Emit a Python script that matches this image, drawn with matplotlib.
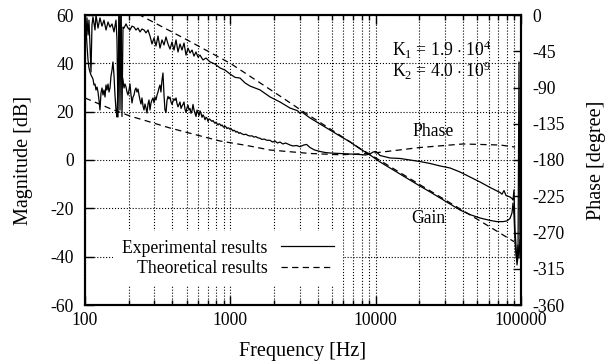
import matplotlib
matplotlib.use('Agg')
import matplotlib.pyplot as plt
from matplotlib.ticker import LogLocator, NullFormatter

# values
gain_exp_f = [100, 101.6, 103.2, 104.9, 106.5, 108.2, 110, 111.7, 113.5, 117.2, 119, 122.9, 126.8,
              130.9, 135.1, 139.5, 144, 148.6, 153.4, 158.3, 163.4, 166, 168.7, 171.4, 174.1, 176.9,
              179.7, 182.6, 185.5, 191.5, 197.6, 204, 210.6, 217.4, 224.3, 231.6, 239, 246.7, 254.7,
              262.8, 271.3, 280.1, 289.1, 298.4, 308, 317.9, 328.2, 338.7, 349.6, 360.9, 372.5,
              384.6, 396.9, 409.7, 422.9, 436.5, 450.6, 465.1, 480.1, 495.5, 511.5, 527.9, 545,
              562.3, 580.5, 599.1, 618.5, 648.6, 680.2, 724.6, 784.6, 849.1, 919.1, 994.7, 1077,
              1166, 1262, 1366, 1479, 1601, 1875, 2197, 2574, 2900, 3016, 3100, 3533, 4140, 4851,
              5684, 6659, 7802, 9141, 10710, 12550, 14710, 17230, 20190, 23660, 27720, 32480,
              38060, 44590, 52250, 61220, 68380, 75210, 80110, 84010, 86710, 88100, 89510, 90930,
              92370, 93850, 95350, 96880, 98420]
gain_exp_db = [57.1, 49.7, 58.8, 51.7, 57.9, 47.6, 36.4, 55.9, 59.2, 53.8, 60, 54.6, 58.8,
               55.4, 57.9, 53.8, 57.1, 55.0, 56.3, 53.0, 57.9, 49.7, 17.8, 62, 40, 62,
               18, 55, 54.6, 56.3, 54.6, 53.8, 55.4, 55.0, 53.8, 54.6, 53.0, 54.2, 53.8,
               52.6, 53.8, 51.3, 48.0, 50.5, 47.2, 51.3, 46.3, 49.7, 47.6, 50.9, 48.0,
               45.9, 48.8, 45.5, 49.7, 44.7, 48.0, 45.5, 48.4, 43.4, 46.3, 44.3, 45.5,
               43.0, 44.7, 42.6, 43.4, 41.4, 42.2, 40.6, 39.7, 38.1, 37.2, 35.6, 34.2,
               33.9, 31.9, 30.6, 29.8, 29.0, 26.1, 24.0, 21.5, 20.4, 19.3, 19.9, 17.4, 14.9, 12.4,
               9.9, 7.5, 4.6, 2.1, -0.8, -3.3, -5.8, -8.3, -10.8, -13.2, -15.7, -18.2,
               -20.7, -22.6, -24.0, -25.0, -25.5, -25.5, -25.2, -24.2, -21.9, -17.8, -22.8, -33.1,
               -39.3, -42.2, -35.2, -40.6, -33.1]

phase_exp_f = [100, 101.6, 103.2, 104.9, 106.5, 108.2, 110, 111.7, 113.5, 115.3, 117.2, 119, 121,
               122.9, 124.8, 126.8, 128.8, 130.9, 133, 135.1, 137.3, 139.5, 141.7, 144, 146.3,
               148.6, 151, 153.4, 155.8, 158.3, 160.8, 163.4, 166, 168.7, 171.4, 174.1, 176.9,
               179.7, 182.6, 185.5, 188.5, 191.5, 194.5, 197.6, 200.8, 204, 207.3, 210.6, 214,
               217.4, 220.8, 224.3, 227.9, 231.6, 235.3, 239, 242.8, 246.7, 250.7, 254.7, 258.7,
               262.8, 267, 271.3, 275.7, 280, 284.5, 289, 293.7, 298.4, 303, 308, 313, 318, 323,
               328, 333, 338.7, 344, 349.6, 355, 361, 366.7, 372.5, 378.5, 384.6, 390.7, 397,
               403.3, 409.7, 416, 423, 429.7, 436.5, 443.5, 450.6, 457.8, 465, 472.5, 480, 487.7,
               495.5, 503.4, 511.5, 519.7, 528, 536.4, 545, 553.7, 562.5, 571.5, 580.6, 589.9,
               599, 609, 618.5, 628, 638.6, 648.6, 659, 669.6, 680.2, 691, 702, 713, 724.6, 736,
               748, 760, 772, 784.6, 797, 810, 823, 836, 849, 863, 877, 891, 905, 919, 934, 949,
               964, 979, 995, 1011, 1027, 1043, 1060, 1077, 1094, 1111, 1129, 1147, 1166, 1200,
               1240, 1280, 1320, 1366, 1410, 1450, 1500, 1550, 1601, 1650, 1710, 1780, 1875,
               1950, 2030, 2110, 2197, 2300, 2400, 2574, 2700, 2850, 3016, 3200, 3350, 3533,
               3800, 4140, 4500, 4851, 5684, 6659, 7802, 8500, 9141, 9600, 10000, 10400, 10710,
               12550, 14710, 17230, 20190, 23660, 27720, 32480, 38060, 44590, 52250, 61220,
               68380, 71730, 74000, 76400, 78900, 84010, 86710, 88100, 89510, 90930, 92370,
               93850, 95350, 96880, 98420]
phase_exp_deg = [-2.5, -16.1, -37.2, -55.9, -65.8, -70.8, -74.5, -77.0, -79.4, -86.9, -85.7, -93.1, -89.4,
                 -95.6, -105.5, -117.9, -96.8, -90.6, -99.3, -93.1, -101.8, -86.9, -93.1, -85.7, -95.6,
                 -90.6, -75.7, -68.3, -58.3, -74.5, -99.3, -117.9, -126.6, -86.9, 0, -117.9, 0,
                 -74.5, -80.7, -90.6, -85.7, -89.4, -95.6, -99.3, -93.1, -85.7, -99.3, -109.2, -101.8,
                 -99.3, -93.1, -90.6, -95.6, -91.9, -99.3, -105.5, -110.5, -103.0, -113.0, -117.9, -110.5,
                 -115.4, -121.7, -110.5, -105.5, -117.9, -109.2, -105.5, -103.0, -109.2, -101.8, -105.5, -99.3, -95.6, -90.6,
                 -86.9, -95.6, -80.7, -72.0, -99.0, -118.0, -121.0, -106.0, -101.0, -104.0, -102.0, -108.0, -111.0,
                 -107.0, -104.0, -106.0, -103.0, -110.0, -114.0, -111.0, -108.0, -116.0, -113.0, -111.0, -108.0, -117.0,
                 -121.0, -115.0, -112.0, -118.0, -116.0, -122.0, -119.0, -111.0, -118.0, -122.0, -126.0, -118.0,
                 -121.0, -125.0, -119.0, -122.0, -127.0, -124.0, -126.0, -130.0, -127.0, -128.0, -132.0, -129.0, -129.5, -131.0,
                 -132.0, -131.0, -133.0, -134.5, -133.0, -135.0, -136.5, -135.0, -135.5, -137.5, -136.5, -138.5, -139.5, -138.0, -139.0, -141.0,
                 -140.0, -140.5, -142.0, -141.0, -142.5, -144.0, -143.0, -144.0, -145.5, -144.5, -145.5, -147.0, -146.0, -147.5,
                 -148.5, -148.0, -149.5, -150.2, -150.0, -151.5, -151.0, -152.5, -153.0, -154.5, -154.0, -155.5, -155.5,
                 -157.7, -156.4, -158.9, -157.7, -160.1, -158.9, -161.4, -162.6, -162.0, -163.5, -161.4, -160.7, -164.5,
                 -167.6, -169.4, -170.7, -171.3, -171.9, -172.6, -173.2, -173.8, -172.6, -170.1, -169.4, -171.9, -174.4,
                 -177.5, -178.1, -180.0, -181.9, -184.3, -187.4, -189.9, -194.9, -201.1, -207.3, -214.1,
                 -218.5, -220.3, -222.5, -217.9, -224.1, -225.9, -227.8, -229.7, -217.2, -266.9, -285.5,
                 -310.3, -300.0, -58.3, -290.0]

gain_th_f = [200, 238, 500, 1000, 2000, 3177, 5000, 7800, 10000, 20000, 50000, 89600]
gain_th_db = [62.6, 60.0, 49.8, 40.0, 28.1, 20.0, 12.4, 4.8, 0.9, -10.1, -24.5, -33.8]

phase_th_f = [100, 148.6, 204, 280, 384.6, 600, 849, 1300, 1875, 3533, 5684, 9141, 20190, 39900, 71800, 91000]
phase_th_deg = [-103.0, -116.1, -125.4, -132.8, -140.3, -149.4, -156.4, -162.0, -167.6, -171.9, -173.5,
                -171.9, -164.5, -160.1, -161.4, -163.9]

mag_ticks = [-60, -40, -20, 0, 20, 40, 60]
phase_ticks = [-360, -315, -270, -225, -180, -135, -90, -45, 0]
freq_ticks = [100, 1000, 10000, 100000]
freq_labels = ['100', '1000', '10000', '100000']

plt.rcParams['font.family'] = 'Liberation Serif'
plt.rcParams['font.size'] = 12.7
plt.rcParams['axes.unicode_minus'] = False
plt.rcParams['mathtext.fontset'] = 'custom'
plt.rcParams['mathtext.rm'] = 'Liberation Serif'
plt.rcParams['mathtext.it'] = 'Liberation Serif:italic'

fig = plt.figure(figsize=(6.13, 3.64), dpi=100)
ax = fig.add_axes([85 / 613, 59 / 364, 436 / 613, 290 / 364])
ax2 = ax.twinx()

# gain on left axis
l_exp, = ax.plot(gain_exp_f, gain_exp_db, color='black', lw=0.9)
l_th, = ax.plot(gain_th_f, gain_th_db, color='black', lw=0.9, ls=(0, (5, 3.5)))
# phase on right axis
ax2.plot(phase_exp_f, phase_exp_deg, color='black', lw=0.9)
ax2.plot(phase_th_f, phase_th_deg, color='black', lw=0.9, ls=(0, (5, 3.5)))

ax.set_xscale('log')
ax.set_xlim(100, 100000)
ax.set_ylim(-60, 60)
ax2.set_ylim(-360, 0)

ax.set_xticks(freq_ticks)
ax.set_xticklabels(freq_labels)
ax.xaxis.set_minor_locator(LogLocator(base=10, subs=range(2, 10)))
ax.xaxis.set_minor_formatter(NullFormatter())
ax.set_yticks(mag_ticks)
ax.set_yticklabels([str(v) for v in mag_ticks])
ax2.set_yticks(phase_ticks)
ax2.set_yticklabels([str(v) for v in phase_ticks])

ax.tick_params(which='major', direction='in', length=6.5, width=1, top=True, right=False)
ax.tick_params(which='minor', direction='in', length=3.5, width=1, top=True, right=False)
ax.tick_params(axis='y', pad=8)
ax.tick_params(axis='x', pad=5)
ax2.tick_params(axis='y', direction='in', length=6, width=1, pad=8)

ax.grid(True, which='major', axis='both', ls=':', color='black', lw=0.8)
ax.grid(True, which='minor', axis='x', ls=':', color='black', lw=0.8)

for s in ax.spines.values():
    s.set_linewidth(1.5)
for s in ax2.spines.values():
    s.set_linewidth(1.5)

ax.set_xlabel('Frequency [Hz]', fontsize=14.5)
ax.set_ylabel('Magnitude [dB]', fontsize=14.5)
ax2.set_ylabel('Phase [degree]', fontsize=14.5)
ax.xaxis.set_label_coords(0.5, -0.128)
ax.yaxis.set_label_coords(-0.119, 0.5)
ax2.yaxis.set_label_coords(1.151, 0.5)

ax.text(0.704, 0.879, 'K$_1$ = 1.9 $\\cdot$ 10$^4$', transform=ax.transAxes, ha='left', va='center')
ax.text(0.704, 0.807, 'K$_2$ = 4.0 $\\cdot$ 10$^9$', transform=ax.transAxes, ha='left', va='center')
ax.text(0.798, 0.597, 'Phase', transform=ax.transAxes, ha='center', va='center')
ax.text(0.787, 0.297, 'Gain', transform=ax.transAxes, ha='center', va='center')

leg = ax2.legend([l_exp, l_th], ['Experimental results', 'Theoretical results'],
                 loc='center right', bbox_to_anchor=(0.592, 0.161), borderaxespad=0,
                 markerfirst=False, handlelength=3, handletextpad=0.8, labelspacing=0.2,
                 frameon=True, fancybox=False, framealpha=1, borderpad=0.5)
leg.get_frame().set_edgecolor('none')
leg.get_frame().set_facecolor('white')

fig.savefig('out.png', dpi=100)
